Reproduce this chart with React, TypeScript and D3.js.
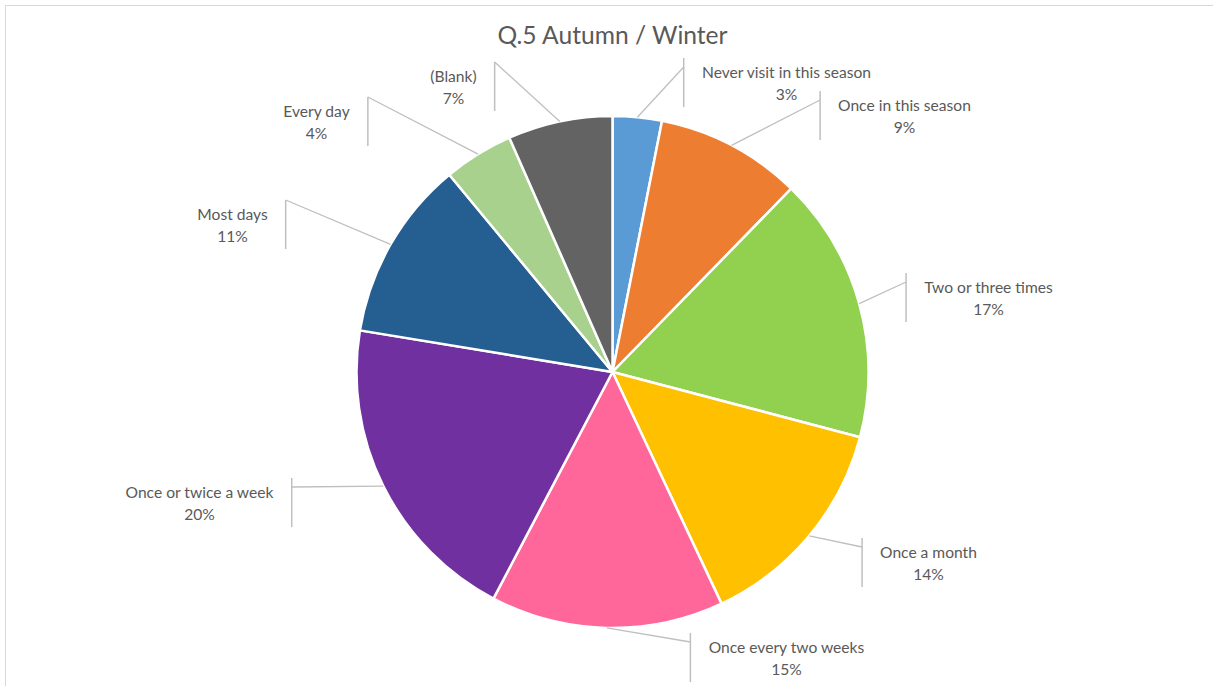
import React from "react";
import * as d3 from "d3";

// ---- data ----
const categories = [
  "Never visit in this season",
  "Once in this season",
  "Two or three times",
  "Once a month",
  "Once every two weeks",
  "Once or twice a week",
  "Most days",
  "Every day",
  "(Blank)",
];
const shares = [3.1, 9.2, 16.8, 13.9, 14.7, 19.9, 11.4, 4.4, 6.6];
const colors = [
  "#5b9bd5",
  "#ed7d31",
  "#92d050",
  "#ffc000",
  "#ff6699",
  "#7030a0",
  "#255e91",
  "#a9d18e",
  "#636363",
];
const title = "Q.5 Autumn / Winter";

// ---- layout (label block centres relative to pie centre) ----
const labelOffsets: [number, number][] = [
  [174, -289],
  [292, -256],
  [376, -74],
  [316, 191],
  [174, 286],
  [-413, 131],
  [-380, -147],
  [-296, -250],
  [-159, -285],
];

const W = 1213;
const H = 686;
const cx = 612.5;
const cy = 372;
const R = 256;
const FONT = "Lato, 'Liberation Sans', sans-serif";
const LABEL_SIZE = 15.6;

function measure(text: string, size: number): number {
  if (typeof document === "undefined") return text.length * size * 0.5;
  const c = document.createElement("canvas").getContext("2d");
  if (!c) return text.length * size * 0.5;
  c.font = `${size}px Lato`;
  return c.measureText(text).width;
}

export default function App() {
  const total = d3.sum(shares);
  const pie = d3
    .pie<number>()
    .sort(null)
    .value((d) => d);
  const arcs = pie(shares);
  const arcGen = d3.arc<d3.PieArcDatum<number>>().innerRadius(0).outerRadius(R);

  return (
    <svg
      width={W}
      height={H}
      style={{ position: "absolute", left: 0, top: 0, background: "#fff" }}
    >
      <rect x={0} y={0} width={W} height={H} fill="#fff" />
      <line x1={5.5} y1={5.5} x2={W} y2={5.5} stroke="#d9d9d9" strokeWidth={1} />
      <line x1={5.5} y1={5.5} x2={5.5} y2={H} stroke="#d9d9d9" strokeWidth={1} />
      <text
        x={cx}
        y={44}
        textAnchor="middle"
        fontFamily={FONT}
        fontSize={24.6}
        fill="#595959"
      >
        {title}
      </text>
      <g transform={`translate(${cx},${cy})`}>
        {arcs.map((a, i) => (
          <path
            key={i}
            d={arcGen(a) || ""}
            fill={colors[i]}
            stroke="#fff"
            strokeWidth={2.5}
            strokeLinejoin="round"
          />
        ))}
        {arcs.map((a, i) => {
          const mid = (a.startAngle + a.endAngle) / 2;
          const sx = Math.sin(mid) * R;
          const sy = -Math.cos(mid) * R;
          const [lx, ly] = labelOffsets[i];
          const pct = `${Math.round((a.data / total) * 100)}%`;
          const w = Math.max(
            measure(categories[i], LABEL_SIZE),
            measure(pct, LABEL_SIZE)
          );
          const rightSide = lx > 0;
          const barX = rightSide ? lx - w / 2 - 18 : lx + w / 2 + 18;
          const top = ly - 25;
          const bottom = ly + 24;
          const hitY = !rightSide && ly < 0 ? top : top + 9;
          return (
            <g key={"l" + i}>
              <polyline
                points={`${sx},${sy} ${barX},${hitY}`}
                fill="none"
                stroke="#bfbfbf"
                strokeWidth={1.3}
              />
              <line
                x1={barX}
                y1={top}
                x2={barX}
                y2={bottom}
                stroke="#bfbfbf"
                strokeWidth={1.5}
              />
              <text
                x={lx}
                y={ly}
                textAnchor="middle"
                fontFamily={FONT}
                fontSize={LABEL_SIZE}
                fill="#595959"
              >
                <tspan x={lx} y={ly - 5}>
                  {categories[i]}
                </tspan>
                <tspan x={lx} y={ly + 16.5}>
                  {pct}
                </tspan>
              </text>
            </g>
          );
        })}
      </g>
    </svg>
  );
}
